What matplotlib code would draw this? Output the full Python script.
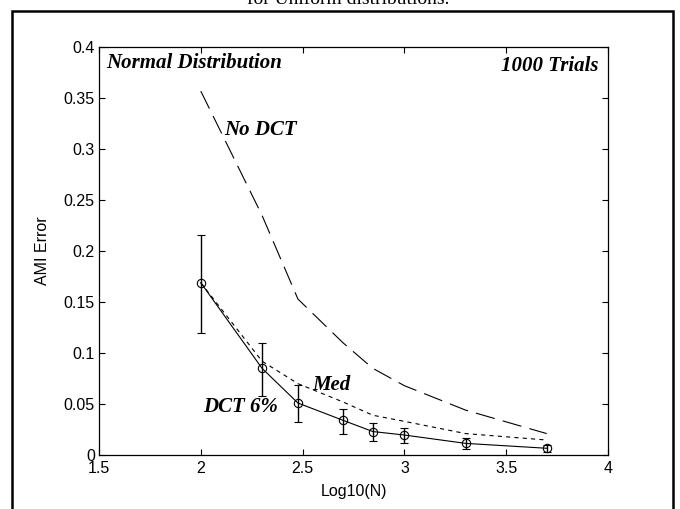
import matplotlib
matplotlib.use("Agg")
import matplotlib.pyplot as plt
from matplotlib.patches import Rectangle

plt.rcParams['lines.scale_dashes'] = False

# Data
log_n = [2.0, 2.301, 2.477, 2.699, 2.845, 3.0, 3.301, 3.699]
no_dct = [0.357, 0.235, 0.153, 0.110, 0.085, 0.068, 0.044, 0.021]
med = [0.169, 0.092, 0.070, 0.052, 0.039, 0.033, 0.021, 0.0147]
dct6 = [0.169, 0.085, 0.051, 0.034, 0.023, 0.0196, 0.0114, 0.0066]
dct6_err_low = [0.049, 0.027, 0.019, 0.013, 0.009, 0.008, 0.0058, 0.0033]
dct6_err_high = [0.047, 0.025, 0.018, 0.011, 0.008, 0.0065, 0.0049, 0.0032]
x_ticks = [1.5, 2, 2.5, 3, 3.5, 4]
x_tick_labels = ['1.5', '2', '2.5', '3', '3.5', '4']
y_ticks = [0, 0.05, 0.1, 0.15, 0.2, 0.25, 0.3, 0.35, 0.4]
y_tick_labels = ['0', '0.05', '0.1', '0.15', '0.2', '0.25', '0.3', '0.35', '0.4']

fig = plt.figure(figsize=(6.8, 5.09), dpi=100)
ax = fig.add_axes([99/680, 1-455/509, (608-99)/680, (455-47.3)/509])

sans = ['Liberation Sans', 'DejaVu Sans']
serif = ['Liberation Serif', 'DejaVu Serif']

ax.plot(log_n, no_dct, color='black', lw=0.8, linestyle=(0, (14, 6)))
ax.plot(log_n, med, color='black', lw=0.8, linestyle=(0, (3, 3)))
ax.errorbar(log_n, dct6, yerr=[dct6_err_low, dct6_err_high], color='black',
            lw=0.8, elinewidth=1.0, capsize=3, capthick=1.0,
            marker='o', markersize=6, markerfacecolor='none',
            markeredgecolor='black', markeredgewidth=0.8)

ax.set_xlim(1.5, 4)
ax.set_ylim(0, 0.4)
ax.set_xticks(x_ticks)
ax.set_xticklabels(x_tick_labels, family=sans, fontsize=11.5)
ax.set_yticks(y_ticks)
ax.set_yticklabels(y_tick_labels, family=sans, fontsize=11.5)
ax.tick_params(direction='in', length=4, width=0.8, top=True, right=True)
ax.tick_params(axis='x', pad=4)
ax.tick_params(axis='y', pad=3)
for s in ax.spines.values():
    s.set_linewidth(0.9)

ax.set_xlabel('Log10(N)', family=sans, fontsize=11.5, labelpad=6)
ax.set_ylabel('AMI Error', family=sans, fontsize=11.5, labelpad=10)

tstyle = dict(family=serif, fontsize=15, fontweight='bold', fontstyle='italic')
ax.text(1.535, 0.385, 'Normal Distribution', ha='left', va='center', **tstyle)
ax.text(3.955, 0.382, '1000 Trials', ha='right', va='center', **tstyle)
ax.text(2.115, 0.319, 'No DCT', ha='left', va='center', **tstyle)
ax.text(2.55, 0.0686, 'Med', ha='left', va='center', **tstyle)
ax.text(2.01, 0.047, 'DCT 6%', ha='left', va='center', **tstyle)

# Title partially cut off at top
fig.text(348/680, 1-4/509, 'for Uniform distributions.', family=serif,
         fontsize=14, ha='center', va='baseline')

# outer frame
frame = Rectangle((12/680, -0.05), (673-12)/680, 1-11/509+0.05,
                  transform=fig.transFigure, fill=False, edgecolor='black',
                  linewidth=1.8)
fig.patches.append(frame)

fig.savefig('out.png', dpi=100)
